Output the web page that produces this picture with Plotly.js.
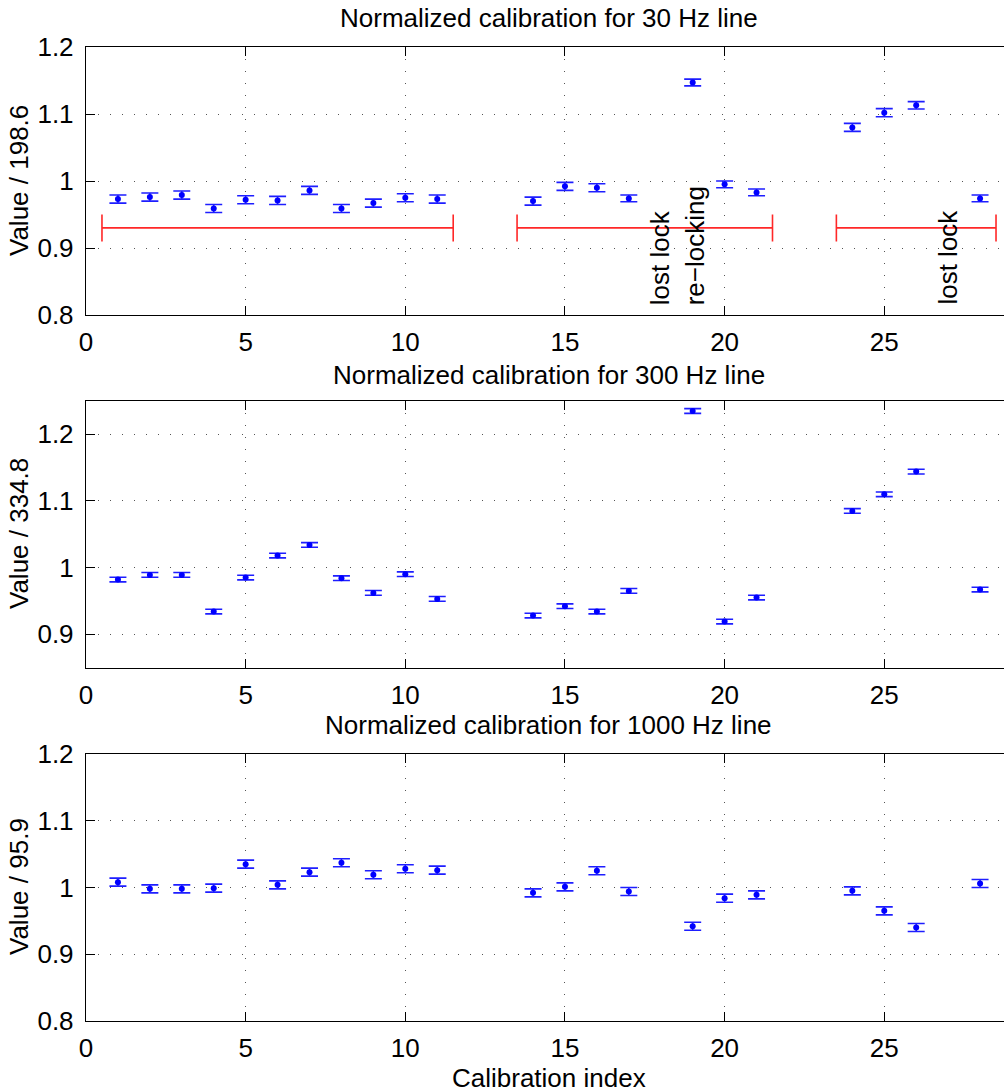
<!DOCTYPE html>
<html>
<head>
<meta charset="utf-8">
<script src="https://cdn.plot.ly/plotly-3.0.1.min.js"></script>
<style>html,body{margin:0;padding:0;background:#fff;overflow:hidden}#chart{width:1004px;height:1092px}</style>
</head>
<body>
<div id="chart"></div>
<script>
// Calibration indices
var calIndex = [1,2,3,4,5,6,7,8,9,10,11,14,15,16,17,19,20,21,24,25,26,28];

// 30 Hz line, normalized by 198.6
var val30 = [0.973,0.976,0.979,0.959,0.972,0.971,0.986,0.959,0.967,0.975,0.973,
             0.970,0.992,0.990,0.974,1.147,0.995,0.983,1.080,1.102,1.113,0.974];
var err30 = [0.006,0.006,0.006,0.006,0.006,0.006,0.006,0.006,0.006,0.006,0.006,
             0.006,0.006,0.006,0.005,0.005,0.005,0.005,0.006,0.006,0.0055,0.005];

// 300 Hz line, normalized by 334.8
var val300 = [0.982,0.989,0.989,0.934,0.985,1.018,1.034,0.984,0.962,0.990,0.953,
              0.928,0.942,0.934,0.965,1.235,0.919,0.955,1.085,1.110,1.144,0.967];
var err300 = [0.0035,0.0035,0.0035,0.0035,0.0035,0.0035,0.0035,0.0035,0.0035,0.0035,0.0035,
              0.0035,0.0035,0.0035,0.0035,0.0035,0.0035,0.0035,0.0035,0.0035,0.0035,0.0035];

// 1000 Hz line, normalized by 95.9
var val1000 = [1.008,0.998,0.998,0.999,1.035,1.004,1.023,1.037,1.019,1.028,1.026,
               0.992,1.001,1.025,0.994,0.942,0.984,0.989,0.995,0.965,0.940,1.006];
var err1000 = [0.006,0.006,0.006,0.006,0.006,0.006,0.006,0.006,0.006,0.006,0.006,
               0.006,0.006,0.006,0.006,0.006,0.006,0.006,0.006,0.006,0.006,0.006];

// Lock segments (red bars) on the 30 Hz panel
var segCenter = [6, 17.5, 26];
var segHalf = [5.5, 4, 2.5];
var segLevel = [0.93, 0.93, 0.93];

// Annotations for lock events
var noteText = ["lost lock", "re\u2212locking", "lost lock"];
var noteX = [18, 19.1, 27];
var noteY = [0.812, 0.812, 0.812];

var panelTitles = ["Normalized calibration for 30 Hz line",
                   "Normalized calibration for 300 Hz line",
                   "Normalized calibration for 1000 Hz line"];
var yLabels = ["Value / 198.6", "Value / 334.8", "Value / 95.9"];
var xLabel = "Calibration index";

var xTickVals = [0,5,10,15,20,25];
var xTickText = ["0","5","10","15","20","25"];
var yTickVals1 = [0.8,0.9,1.0,1.1,1.2];
var yTickText1 = ["0.8","0.9","1","1.1","1.2"];
var yTickVals2 = [0.9,1.0,1.1,1.2];
var yTickText2 = ["0.9","1","1.1","1.2"];

var FONT = "'Liberation Sans', Arial, Helvetica, sans-serif";
var FS = 26;
var blue = "rgb(0,0,255)";

function ptTrace(vals, errs, xa, ya) {
  return {
    x: calIndex, y: vals, xaxis: xa, yaxis: ya, type: "scatter", mode: "markers",
    marker: {color: blue, size: 6},
    error_y: {type: "data", array: errs, visible: true, color: "rgb(30,30,255)", thickness: 1.6, width: 8.5},
    showlegend: false, hoverinfo: "x+y"
  };
}

var traces = [
  {
    x: segCenter, y: segLevel, xaxis: "x", yaxis: "y", type: "scatter", mode: "markers",
    marker: {color: "rgba(255,0,0,0)", size: 1},
    error_x: {type: "data", array: segHalf, visible: true, color: "rgb(255,40,40)", thickness: 1.6, width: 13.5},
    showlegend: false, hoverinfo: "skip"
  },
  ptTrace(val30, err30, "x", "y"),
  ptTrace(val300, err300, "x2", "y2"),
  ptTrace(val1000, err1000, "x3", "y3")
];

function xAxis(anchor) {
  return {
    anchor: anchor, domain: [0, 1], range: [0, 28.75],
    tickvals: xTickVals, ticktext: xTickText,
    ticks: "inside", ticklen: 9, tickwidth: 1, tickcolor: "#000",
    showline: true, linecolor: "#000", linewidth: 1.2, mirror: "ticks",
    showgrid: true, gridcolor: "#555", gridwidth: 1, griddash: "1px,11px",
    zeroline: false, tickfont: {family: FONT, size: FS, color: "#000"},
    ticklabelstandoff: 4
  };
}
function yAxis(anchor, dom, rng, tv, tt) {
  return {
    anchor: anchor, domain: dom, range: rng,
    tickvals: tv, ticktext: tt,
    ticks: "inside", ticklen: 9, tickwidth: 1, tickcolor: "#000",
    showline: true, linecolor: "#000", linewidth: 1.2, mirror: false,
    showgrid: true, gridcolor: "#555", gridwidth: 1, griddash: "1px,11px",
    zeroline: false, tickfont: {family: FONT, size: FS, color: "#000"},
    ticklabelstandoff: 6
  };
}

var H = 1092;
function dom(top, bottom) { return [1 - bottom / H, 1 - top / H]; }

var annotations = [];
var titleY = [18, 375, 725];
var yLabY = [181, 534, 887];
for (var i = 0; i < 3; i++) {
  annotations.push({
    text: panelTitles[i], xref: "x", x: 14.5, yref: "paper", y: 1 - titleY[i] / H,
    xanchor: "center", yanchor: "middle", showarrow: false,
    font: {family: FONT, size: FS, color: "#000"}
  });
  annotations.push({
    text: yLabels[i], xref: "paper", x: 0, xshift: -86 + 19, yref: "paper", y: 1 - yLabY[i] / H,
    xanchor: "center", yanchor: "middle", textangle: -90, showarrow: false,
    font: {family: FONT, size: FS, color: "#000"}
  });
}
annotations.push({
  text: xLabel, xref: "x3", x: 14.5, yref: "paper", y: 1 - 1078 / H,
  xanchor: "center", yanchor: "middle", showarrow: false,
  font: {family: FONT, size: FS, color: "#000"}
});
for (var j = 0; j < noteText.length; j++) {
  annotations.push({
    text: noteText[j], xref: "x", x: noteX[j], yref: "y", y: noteY[j],
    xanchor: "center", yanchor: "bottom", textangle: -90, showarrow: false,
    font: {family: FONT, size: FS, color: "#000"}
  });
}

var layout = {
  width: 1004, height: 1092,
  margin: {l: 86, r: 0, t: 0, b: 0},
  paper_bgcolor: "#fff", plot_bgcolor: "#fff",
  showlegend: false,
  xaxis: xAxis("y"), xaxis2: xAxis("y2"), xaxis3: xAxis("y3"),
  yaxis: yAxis("x", dom(47, 315), [0.8, 1.2], yTickVals1, yTickText1),
  yaxis2: yAxis("x2", dom(401, 667.5), [0.85, 1.25], yTickVals2, yTickText2),
  yaxis3: yAxis("x3", dom(754, 1021), [0.8, 1.2], yTickVals1, yTickText1),
  annotations: annotations
};

Plotly.newPlot("chart", traces, layout, {displayModeBar: false, staticPlot: true});
</script>
</body>
</html>
